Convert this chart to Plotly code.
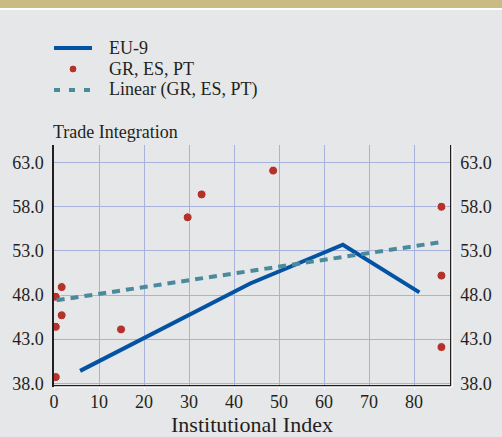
import plotly.graph_objects as go

# EU-9 path
eu9_x = [5.8, 43.6, 64.2, 81.2]
eu9_y = [39.4, 49.3, 53.7, 48.3]

# GR, ES, PT observations
south_x = [0.4, 1.7, 1.7, 0.4, 0.4, 14.9, 29.7, 32.8, 48.7, 86.1, 86.1, 86.1]
south_y = [47.8, 48.9, 45.7, 44.4, 38.7, 44.1, 56.8, 59.4, 62.1, 58.0, 50.2, 42.1]

# linear trend endpoints
trend_x = [0.6, 86.1]
trend_y = [47.4, 54.0]

y_ticks = [38, 43, 48, 53, 58, 63]
x_ticks = [0, 10, 20, 30, 40, 50, 60, 70, 80]

legend_names = ["EU-9", "GR, ES, PT", "Linear (GR, ES, PT)"]

font_family = "Liberation Serif"
bg = "#E6E7E9"
grid = "#A7B3DD"
blue = "#0453A3"
red = "#B3322C"
teal = "#4A8A9B"

W, H = 502, 437
L, R, T, B = 54, 52, 145, 52
PW, PH = W - L - R, H - T - B


def px_x(px):
    return (px - L) / PW


def px_y(py):
    return 1 + (T - py) / PH


fig = go.Figure()
fig.add_trace(go.Scatter(x=eu9_x, y=eu9_y, mode="lines", name=legend_names[0],
                         line=dict(color=blue, width=4), showlegend=False))
fig.add_trace(go.Scatter(x=south_x, y=south_y, mode="markers", name=legend_names[1],
                         marker=dict(color=red, size=9, line=dict(color="#F2F2F2", width=1)),
                         showlegend=False))
fig.add_trace(go.Scatter(x=trend_x, y=trend_y, mode="lines", name=legend_names[2],
                         line=dict(color=teal, width=4, dash="8px,6px"), showlegend=False))
# invisible trace to hold the right-hand axis
fig.add_trace(go.Scatter(x=[0], y=[38], yaxis="y2", mode="markers",
                         marker=dict(opacity=0), showlegend=False, hoverinfo="skip"))

# hand-drawn legend (rows are tighter than plotly's own legend)
rows = [48, 69, 90]
shapes = [
    dict(type="rect", xref="paper", yref="paper", x0=-0.2, x1=1.2,
         y0=px_y(8), y1=px_y(-10), line=dict(width=0), fillcolor="#C9BB81"),
    dict(type="rect", xref="paper", yref="paper", x0=-0.2, x1=1.2,
         y0=px_y(10), y1=px_y(8), line=dict(width=0), fillcolor="white"),
    # white edge under the bottom axis and beside the right axis
    dict(type="line", xref="paper", yref="paper", x0=px_x(54), x1=px_x(452),
         y0=px_y(387), y1=px_y(387), line=dict(color="white", width=1.5)),
    dict(type="line", xref="paper", yref="paper", x0=px_x(452), x1=px_x(452),
         y0=px_y(145), y1=px_y(387), line=dict(color="white", width=1.5)),
    dict(type="line", xref="paper", yref="paper", x0=px_x(54), x1=px_x(92),
         y0=px_y(rows[0]), y1=px_y(rows[0]), line=dict(color=blue, width=4)),
    dict(type="circle", xref="paper", yref="paper", xsizemode="pixel", ysizemode="pixel",
         xanchor=px_x(73), yanchor=px_y(rows[1]), x0=-4, x1=4, y0=-4, y1=4,
         fillcolor=red, line=dict(color="#F2F2F2", width=1)),
    dict(type="line", xref="paper", yref="paper", x0=px_x(54), x1=px_x(92),
         y0=px_y(rows[2]), y1=px_y(rows[2]), line=dict(color=teal, width=4, dash="6px,9px")),
]
annotations = [
    dict(text=name, xref="paper", yref="paper", x=px_x(107), y=px_y(r),
         xanchor="left", yanchor="middle", showarrow=False, font=dict(size=18))
    for name, r in zip(legend_names, rows)
]
annotations.append(
    dict(text="Trade Integration", xref="paper", yref="paper", x=0, y=1,
         xanchor="left", yanchor="bottom", showarrow=False, xshift=-3, yshift=1,
         font=dict(size=18)))

fig.update_layout(
    width=W, height=H,
    margin=dict(l=L, r=R, t=T, b=B, autoexpand=False),
    paper_bgcolor=bg, plot_bgcolor=bg,
    font=dict(family=font_family, size=18, color="#231F20"),
    showlegend=False,
    xaxis=dict(range=[0, 88], tickvals=x_ticks, ticktext=[str(v) for v in x_ticks],
               showgrid=True, gridcolor=grid, gridwidth=1, automargin=False,
               showline=True, linecolor="#231F20", linewidth=1.5,
               ticks="outside", ticklen=3, tickcolor="white", zeroline=False,
               ticklabelstandoff=-3,
               title=dict(text="Institutional Index", standoff=2)),
    yaxis=dict(range=[37.8, 65.0], tickvals=y_ticks, ticktext=[f"{v:.1f}" for v in y_ticks],
               showgrid=True, gridcolor=grid, gridwidth=1, automargin=False,
               showline=True, linecolor="#231F20", linewidth=1.5,
               ticks="", zeroline=False, ticklabelstandoff=5),
    yaxis2=dict(overlaying="y", side="right", matches="y", range=[37.8, 65.0],
                tickvals=y_ticks, ticktext=[f"{v:.1f}" for v in y_ticks], automargin=False,
                showgrid=False, showline=True, linecolor="#231F20", linewidth=1.5,
                zeroline=False, ticklabelstandoff=5),
    shapes=shapes,
    annotations=annotations,
)

fig.write_html("out.html", config={"displayModeBar": False},
               post_script="document.body.style.margin='0';")
